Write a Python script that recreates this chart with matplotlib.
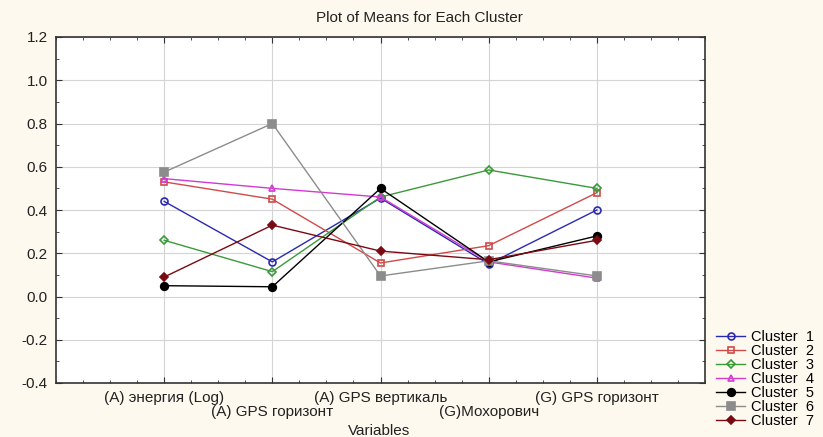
import matplotlib
matplotlib.use("Agg")
import matplotlib.pyplot as plt
from matplotlib.ticker import MultipleLocator

plt.rcParams['font.family'] = ['Liberation Sans', 'DejaVu Sans']

# Variables on the x axis
variables = ["(A) энергия (Log)", "(A) GPS горизонт", "(A) GPS вертикаль",
             "(G)Мохорович", "(G) GPS горизонт"]

# Cluster means
cluster1 = [0.44, 0.16, 0.455, 0.15, 0.40]
cluster2 = [0.53, 0.45, 0.155, 0.235, 0.48]
cluster3 = [0.26, 0.115, 0.46, 0.585, 0.50]
cluster4 = [0.545, 0.50, 0.46, 0.16, 0.085]
cluster5 = [0.05, 0.045, 0.50, 0.16, 0.28]
cluster6 = [0.575, 0.80, 0.095, 0.165, 0.095]
cluster7 = [0.09, 0.33, 0.21, 0.17, 0.26]

series = [cluster1, cluster2, cluster3, cluster4, cluster5, cluster6, cluster7]
names = ["Cluster  1", "Cluster  2", "Cluster  3", "Cluster  4",
         "Cluster  5", "Cluster  6", "Cluster  7"]
colors = ["#2a2ab0", "#d04a4a", "#3a9a3a", "#d23ad2", "#000000", "#8c8c8c", "#7a0a12"]
markers = ["o", "s", "D", "^", "o", "s", "D"]
filled = [False, False, False, False, True, True, True]
msizes = [5, 5, 4, 5, 5.5, 6, 4]

fig = plt.figure(figsize=(8.23, 4.37), dpi=100, facecolor="#fdf9ee")
ax = fig.add_axes([56 / 823, 1 - 383 / 437, (705 - 56) / 823, (383 - 37) / 437])
ax.set_facecolor("white")

x = list(range(1, len(variables) + 1))
for vals, name, c, m, f, ms in zip(series, names, colors, markers, filled, msizes):
    ax.plot(x, vals, color=c, marker=m, markersize=ms, linewidth=1,
            markerfacecolor=c if f else "none", markeredgecolor=c,
            markeredgewidth=1.2, label=name)

ax.set_xlim(0, 6)
ax.set_ylim(-0.4, 1.2)
ax.set_xticks(x)
ax.set_xticklabels(variables, fontsize=11)
ax.xaxis.set_minor_locator(MultipleLocator(0.25))
ax.yaxis.set_major_locator(MultipleLocator(0.2))
ax.yaxis.set_minor_locator(MultipleLocator(0.1))
ax.set_yticks(ax.get_yticks())
ax.set_yticklabels([f"{v:.1f}" for v in ax.get_yticks()], fontsize=11)
ax.set_ylim(-0.4, 1.2)
ax.tick_params(which="both", direction="in", top=True, right=True, colors="#333333",
               labelcolor="#222222")
ax.tick_params(which="major", length=4, pad=6)
ax.tick_params(which="minor", length=2)
# staggered labels: every second one on a lower row
for i, t in enumerate(ax.xaxis.get_major_ticks()):
    t.set_pad(6 if i % 2 == 0 else 16)
ax.grid(True, which="major", color="#d4d4d4", linewidth=0.8)
for s in ax.spines.values():
    s.set_color("#333333")
    s.set_linewidth(1.2)

fig.text(0.51, 1 - 18 / 437, "Plot of Means for Each Cluster", fontsize=11,
         color="#222222", ha="center", va="center")
fig.text(379 / 823, 1 - 431 / 437, "Variables", fontsize=11, color="#222222",
         ha="center", va="center")

fig.legend(loc="lower right", bbox_to_anchor=(1.0, 0.0), frameon=False, fontsize=10.5,
           handlelength=2.0, handletextpad=0.4, labelspacing=0.0, borderaxespad=0.2)

fig.savefig("out.png", dpi=100, facecolor=fig.get_facecolor())
